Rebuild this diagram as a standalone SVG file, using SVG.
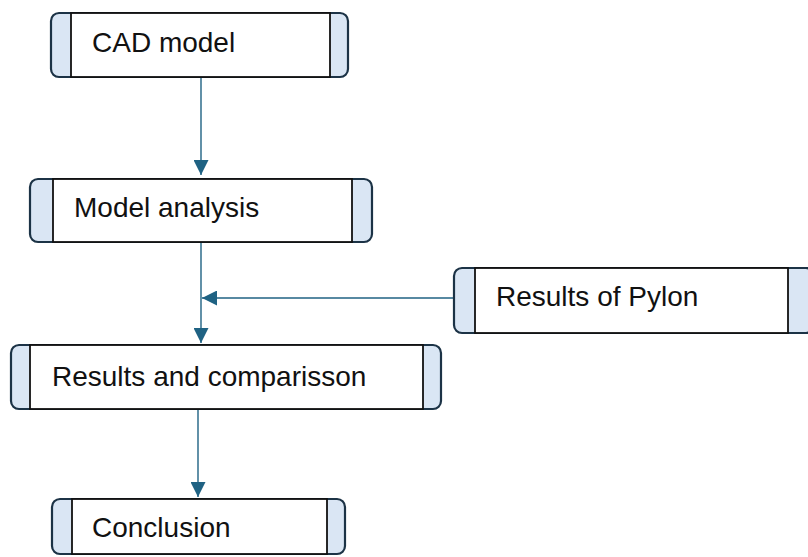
<svg xmlns="http://www.w3.org/2000/svg" width="808" height="557" viewBox="0 0 808 557">
<style>
.outer{fill:#dae6f4;stroke:#1c3346;stroke-width:2.2}
.inner{fill:#ffffff;stroke:#111111;stroke-width:1.8}
.lbl{font-family:"Liberation Sans",Arial,sans-serif;font-size:28px;fill:#111111}
.conn{stroke:#1f6283;stroke-width:1.4;fill:none}
</style>
<defs>
<marker id="ah" viewBox="0 0 10 10" refX="10" refY="5" markerWidth="15" markerHeight="15" markerUnits="userSpaceOnUse" orient="auto">
<path d="M0,0 L10,5 L0,10 Z" fill="#1f6283"/>
</marker>
</defs>
<rect x="0" y="0" width="808" height="557" fill="#ffffff"/>
<g id="connectors">
<line class="conn" x1="201" y1="73" x2="201" y2="175" marker-end="url(#ah)"/>
<line class="conn" x1="201" y1="243" x2="201" y2="343" marker-end="url(#ah)"/>
<line class="conn" x1="454" y1="298" x2="202" y2="298" marker-end="url(#ah)"/>
<line class="conn" x1="198" y1="397" x2="198" y2="497" marker-end="url(#ah)"/>
</g>
<g id="cad">
<rect class="outer" x="51" y="13" width="297" height="64" rx="8"/>
<rect class="inner" x="71" y="13" width="259" height="64"/>
<text class="lbl" x="92" y="52">CAD model</text>
</g>
<g id="analysis">
<rect class="outer" x="30" y="179" width="342" height="63" rx="8"/>
<rect class="inner" x="53" y="179" width="299" height="63"/>
<text class="lbl" x="74" y="217">Model analysis</text>
</g>
<g id="pylon">
<rect class="outer" x="454" y="268" width="360" height="65" rx="8"/>
<rect class="inner" x="475" y="268" width="313" height="65"/>
<text class="lbl" x="496" y="306">Results of Pylon</text>
</g>
<g id="results">
<rect class="outer" x="11" y="345" width="430" height="64" rx="8"/>
<rect class="inner" x="30" y="345" width="393" height="64"/>
<text class="lbl" x="52" y="386">Results and comparisson</text>
</g>
<g id="conclusion">
<rect class="outer" x="52" y="499" width="293" height="55" rx="8"/>
<rect class="inner" x="72" y="499" width="255" height="55"/>
<text class="lbl" x="92" y="537">Conclusion</text>
</g>
</svg>
